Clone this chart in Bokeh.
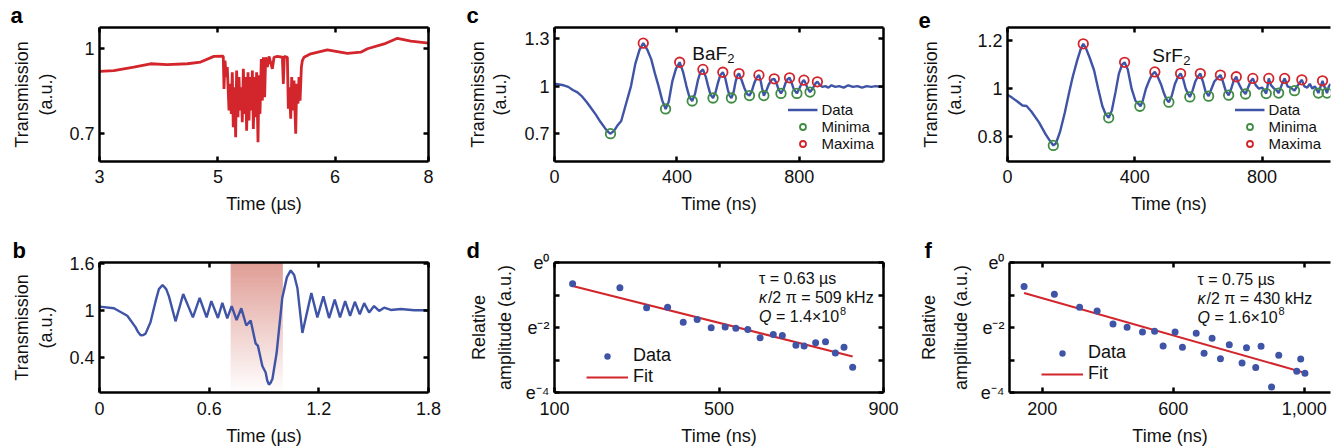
import numpy as np
from bokeh.plotting import figure
from bokeh.models import Range1d, FixedTicker, LinearAxis, Label, Legend, LegendItem
from bokeh.layouts import row, column
from bokeh.embed import file_html
from bokeh.resources import INLINE

# ---------------- data ----------------
# panel a (x in axis-position units; tick labels 3,5,6,8)
a_pos = [3.000,3.218,3.522,3.776,4.029,4.334,4.537,4.739,4.866,4.881,4.892,4.907,4.927,4.942,4.968,4.983,5.003,5.018,5.033,5.054,
         5.069,5.084,5.104,5.120,5.135,5.155,5.170,5.186,5.206,5.221,5.236,5.257,5.272,5.287,5.307,5.323,5.338,5.358,5.373,5.388,
         5.409,5.424,5.439,5.459,5.475,5.490,5.510,5.525,5.551,5.576,5.627,5.652,5.703,5.779,5.794,5.809,5.855,5.870,5.885,5.906,
         5.921,5.936,5.956,5.982,5.997,6.017,6.032,6.048,6.068,6.083,6.108,6.210,6.463,6.768,6.971,7.072,7.326,7.528,7.731,8.000]
a_trans = [0.918,0.921,0.933,0.945,0.942,0.945,0.951,0.971,0.972,0.971,0.856,0.956,0.898,0.933,0.780,0.874,0.768,0.915,0.721,0.862,
           0.686,0.921,0.756,0.898,0.780,0.862,0.739,0.927,0.768,0.898,0.709,0.915,0.745,0.898,0.780,0.921,0.715,0.898,0.756,0.915,
           0.668,0.904,0.768,0.962,0.815,0.968,0.827,0.968,0.933,0.971,0.927,0.968,0.971,0.968,0.874,0.971,0.968,0.786,0.862,0.751,
           0.898,0.780,0.886,0.698,0.874,0.804,0.898,0.815,0.933,0.956,0.968,0.980,0.994,0.982,0.986,0.998,1.015,1.035,1.025,1.018]
a_xticks = [3.0, 4.8, 6.58, 8.0]
a_xlabels = ["3", "5", "6", "8"]
a_yticks = [0.7, 1.0]
a_ylabels = ["0.7", "1"]

# panel b
b_time = [0.000,0.079,0.152,0.197,0.210,0.225,0.240,0.252,0.279,0.307,0.325,0.345,0.365,0.380,0.416,0.458,0.511,0.548,0.586,0.612,
          0.648,0.672,0.699,0.723,0.750,0.776,0.803,0.827,0.854,0.867,0.891,0.909,0.918,0.927,0.935,0.946,0.969,1.000,1.025,1.046,
          1.065,1.083,1.110,1.159,1.192,1.225,1.256,1.287,1.316,1.344,1.371,1.397,1.424,1.448,1.475,1.502,1.530,1.557,1.594,1.648,
          1.722,1.800]
b_trans = [1.046,1.025,0.930,0.785,0.725,0.681,0.685,0.702,0.847,1.116,1.270,1.323,1.270,1.178,0.859,1.207,0.909,1.157,0.909,1.116,
           0.901,1.095,0.897,1.054,0.876,1.025,0.806,0.868,0.578,0.545,0.288,0.206,0.100,0.052,0.070,0.123,0.454,1.157,1.420,1.509,
           1.450,1.281,0.710,1.219,0.909,1.178,0.901,1.137,0.909,1.116,0.930,1.108,0.950,1.091,0.971,1.054,0.992,1.033,1.004,1.017,
           1.000,1.000]
b_shade = [0.72, 1.0]
b_xticks = [0.0, 0.6, 1.2, 1.8]
b_xlabels = ["0", "0.6", "1.2", "1.8"]
b_yticks = [0.4, 1.0, 1.6]
b_ylabels = ["0.4", "1", "1.6"]

# panel c (BaF2)
c_time = [0,15,30,45,60,75,90,105,120,135,150,165,176,183,195,205,218,234,250,264,278,290,303,316,328,340,352,363,373,385,
          397,409,420,431,441,450,459,469,477,485,494,502,510,518,526,534,542,550,558,566,572,578,585,592,598,603,611,620,629,637,
          645,653,661,668,673,678,684,692,700,710,718,725,732,740,748,755,762,768,775,782,792,799,806,811,815,820,826,835,842,848,
          854,859,866,875,885,895,905,918,930,945,960,975,990,1005,1020,1035,1050,1065,1075]
c_trans = [1.015,1.01,1.005,0.995,0.975,0.96,0.935,0.9,0.86,0.82,0.775,0.735,0.71,0.70,0.72,0.75,0.78,0.89,1.0,1.14,
           1.23,1.27,1.23,1.17,1.08,1.0,0.91,0.856,0.9,1.03,1.11,1.15,1.09,1.0,0.93,0.906,0.95,1.04,1.09,1.105,
           1.06,1.0,0.945,0.925,0.96,1.02,1.07,1.087,1.05,0.98,0.94,0.925,0.96,1.03,1.07,1.079,1.04,0.99,0.95,0.94,
           0.97,1.02,1.055,1.069,1.04,0.99,0.94,0.97,1.01,1.04,1.046,1.02,0.98,0.954,0.98,1.02,1.045,1.052,1.02,0.98,
           0.954,0.98,1.01,1.03,1.0375,1.02,0.99,0.9625,0.98,1.0,1.02,1.027,1.01,0.995,1.0,0.99,1.005,0.995,1.0,0.99,
           1.005,0.995,1.0,0.99,1.0,0.995,1.0,0.995,1.0]
c_max_t = [290,409,485,550,603,668,718,768,815,859]
c_max_y = [1.27,1.15,1.105,1.087,1.079,1.069,1.046,1.052,1.0375,1.027]
c_min_t = [183,363,450,518,578,637,684,740,792,835]
c_min_y = [0.70,0.856,0.906,0.925,0.925,0.94,0.94,0.954,0.954,0.9625]
c_xticks = [0, 400, 800]
c_xlabels = ["0", "400", "800"]
c_yticks = [0.7, 1.0, 1.3]
c_ylabels = ["0.7", "1", "1.3"]

# panel d (BaF2 decay, natural log of relative amplitude)
d_time = [144,259,324,375,413,447,481,515,541,570,600,632,654,687,707,735,759,783,804,825]
d_lnamp = [-0.655,-0.776,-1.39,-1.38,-1.84,-1.75,-2.005,-1.985,-2.025,-2.065,-2.317,-2.217,-2.247,-2.549,-2.569,-2.468,-2.438,-2.781,-2.61,-3.224]
d_fit_t = [144, 825]
d_fit_ln = [-0.725, -2.89]
d_xticks = [100, 500, 900]
d_xlabels = ["100", "500", "900"]

# panel e (SrF2)
e_time = [0,15,30,47,60,75,99,120,135,144,152,165,180,193,205,219,230,238,246,258,272,285,298,308,318,328,340,350,360,368,
          378,390,402,413,418,425,435,447,455,463,472,482,492,500,507,516,526,536,544,552,560,567,573,581,590,598,606,614,622,632,
          641,650,660,669,677,686,695,703,711,719,727,737,748,756,764,771,780,790,800,808,813,817,821,828,838,845,852,860,866,871,
          880,890,896,902,910,918,925,933,942,950,958,966,972,977,984,990,997,1004,1010,1015]
e_trans = [0.975,0.962,0.948,0.93,0.928,0.905,0.86,0.81,0.78,0.764,0.772,0.82,0.9,0.98,1.05,1.118,1.165,1.187,1.17,1.13,
           1.077,1.0,0.928,0.895,0.879,0.91,0.99,1.063,1.1,1.11,1.08,1.0,0.95,0.935,0.927,0.95,1.0,1.04,1.06,1.07,
           1.05,1.02,0.98,0.955,0.944,0.97,1.02,1.05,1.063,1.04,1.0,0.98,0.966,0.99,1.03,1.05,1.063,1.03,0.99,0.969,
           1.0,1.03,1.045,1.057,1.03,0.99,0.973,1.0,1.035,1.05,1.02,0.995,0.978,1.005,1.03,1.043,1.015,1.0,1.005,0.99,
           0.98,1.01,1.043,1.015,1.0,0.995,0.982,1.01,1.03,1.043,1.01,1.005,0.998,0.992,1.01,1.025,1.037,1.01,1.005,1.02,
           1.0,1.01,0.995,0.982,1.01,1.033,1.005,0.982,1.01,1.02]
e_max_t = [238,368,463,544,606,669,719,771,821,871,925,990]
e_max_y = [1.187,1.11,1.07,1.063,1.063,1.057,1.05,1.043,1.043,1.043,1.037,1.033]
e_min_t = [144,318,416,507,573,632,695,748,813,852,902,977,1004]
e_min_y = [0.764,0.879,0.927,0.944,0.966,0.969,0.973,0.978,0.98,0.982,0.992,0.982,0.982]
e_xticks = [0, 400, 800]
e_xlabels = ["0", "400", "800"]
e_yticks = [0.8, 1.0, 1.2]
e_ylabels = ["0.8", "1", "1.2"]

# panel f (SrF2 decay)
f_time = [144.5,237,314,367.5,416,459,506,543,569,605.5,628,670,694,718.5,744,771,810,823.5,851.7,868,900,922,977,989,1002]
f_lnamp = [-0.735,-0.977,-1.38,-1.49,-1.894,-1.995,-2.136,-2.116,-2.569,-2.136,-2.61,-2.176,-2.79,-2.327,-2.962,-2.529,-3.093,-2.62,-3.234,-2.58,-3.829,-2.851,-3.345,-2.972,-3.406]
f_fit_t = [144.5, 1002]
f_fit_ln = [-0.937, -3.395]
f_xticks = [200, 600, 1000]
f_xlabels = ["200", "600", "1,000"]

ln_ticks = [-4, -3, -2, -1, 0]
ln_labels = ["e\u207b\u2074", "", "e\u207b\u00b2", "", "e\u2070"]

# ---------------- style ----------------
FONT = "Liberation Sans"
BLUE = "#3f54a6"
RED = "#d2262c"
GREEN = "#3f8c42"
TXT = "#111111"


def base_fig(w, h, bl, br, bt, bb, xr, yr, letter, letter_off):
    p = figure(width=w, height=h, x_range=Range1d(*xr), y_range=Range1d(*yr),
               output_backend="svg", toolbar_location=None,
               x_axis_location=None, y_axis_location=None,
               min_border_left=bl, min_border_right=br, min_border_top=bt, min_border_bottom=bb,
               outline_line_color=None, background_fill_color="white", border_fill_color="white")
    p.grid.visible = False
    p.title.text = letter
    p.title.align = "left"
    p.title.offset = letter_off
    p.title.standoff = 0
    p.title.vertical_align = "bottom"
    p.title.text_font = FONT
    p.title.text_font_size = "22px"
    p.title.text_font_style = "bold"
    p.title.text_color = "black"
    p.title.text_line_height = 0.6
    return p


def axis_common():
    return dict(axis_line_width=2.5, axis_line_color="black",
                major_tick_line_width=2.5, major_tick_line_color="black",
                major_tick_in=5, major_tick_out=0, minor_tick_line_color=None)


LAB = dict(major_label_text_font=FONT, major_label_text_font_size="18px",
           major_label_text_color=TXT, axis_label_text_font=FONT,
           axis_label_text_font_size="18px", axis_label_text_font_style="normal",
           axis_label_text_color=TXT)


def add_axes(p, xt, xl, yt, yl, xlabel, ylab_in, ylab_out, right=True,
             xs=(8, 8), ys=(5, 8, 4)):
    b = LinearAxis(ticker=FixedTicker(ticks=xt), major_label_overrides=dict(zip(xt, xl)),
                   axis_label=xlabel, major_label_standoff=xs[0], axis_label_standoff=xs[1],
                   **axis_common(), **LAB)
    p.add_layout(b, "below")
    l = LinearAxis(ticker=FixedTicker(ticks=yt), major_label_overrides=dict(zip(yt, yl)),
                   axis_label=ylab_in, major_label_standoff=ys[0], axis_label_standoff=ys[1],
                   **axis_common(), **LAB)
    p.add_layout(l, "left")
    lo = LinearAxis(ticker=FixedTicker(ticks=[]), axis_label=ylab_out, axis_label_standoff=ys[2],
                    axis_line_color=None, major_tick_line_color=None, minor_tick_line_color=None,
                    major_label_standoff=0, **LAB)
    p.add_layout(lo, "left")
    hid = dict(major_label_standoff=0, major_label_text_font_size="1px")
    t = LinearAxis(ticker=FixedTicker(ticks=xt), major_label_overrides={v: "" for v in xt},
                   **hid, **axis_common())
    p.add_layout(t, "above")
    if right:
        r = LinearAxis(ticker=FixedTicker(ticks=yt), major_label_overrides={v: "" for v in yt},
                       **hid, **axis_common())
        p.add_layout(r, "right")


# geometry: columns 455 / 460 / 425, rows 222 / 226
W1, W2, W3 = 455, 460, 425
H1, H2 = 222, 226

# ---- a ----
pa = base_fig(W1, H1, 99, 27, 26, 61, (3.0, 8.0), (0.6, 1.073), "a", -89)
pa.line(a_pos, a_trans, line_color=RED, line_width=2.8)
add_axes(pa, a_xticks, a_xlabels, a_yticks, a_ylabels, "Time (\u00b5s)", "(a.u.)", "Transmission", ys=(5, 10, 2))

# ---- b ----
yb = (-0.05, 1.61)
pb = base_fig(W1, H2, 99, 27, 40, 54, (0.0, 1.8), yb, "b", -87)
ys_ = np.linspace(yb[0], yb[1], 61)
fr = (ys_[:-1] + ys_[1:] - 2 * yb[0]) / 2 / (yb[1] - yb[0])
cols = ["#%02x%02x%02x" % (int(255 - (255 - 224) * f), int(255 - (255 - 158) * f), int(255 - (255 - 150) * f)) for f in fr]
pb.quad(left=b_shade[0], right=b_shade[1], bottom=ys_[:-1], top=ys_[1:], fill_color=cols, line_color=cols, line_width=1)
pb.line(b_time, b_trans, line_color=BLUE, line_width=2.4)
add_axes(pb, b_xticks, b_xlabels, b_yticks, b_ylabels, "Time (\u00b5s)", "(a.u.)", "Transmission", xs=(9, 8), ys=(5, 10, 2))

# ---- c ----
pc = base_fig(W2, H1, 99, 32, 26, 61, (0, 1075), (0.525, 1.369), "c", -88)
rc = pc.line(c_time, c_trans, line_color=BLUE, line_width=2.4)
rcmin = pc.scatter(c_min_t, c_min_y, marker="circle", size=9.5, fill_color=None, line_color=GREEN, line_width=1.8)
rcmax = pc.scatter(c_max_t, c_max_y, marker="circle", size=9.5, fill_color=None, line_color=RED, line_width=1.8)
add_axes(pc, c_xticks, c_xlabels, c_yticks, c_ylabels, "Time (ns)", "(a.u.)", "Transmission", ys=(5, 11, 0))
pc.add_layout(Label(x=450, y=1.206, text="BaF", text_font=FONT, text_font_size="19px", text_color=TXT, text_baseline="alphabetic"))
pc.add_layout(Label(x=450, y=1.206, x_offset=35, y_offset=-5, text="2", text_font=FONT, text_font_size="13px", text_color=TXT, text_baseline="alphabetic"))

# ---- d ----
pd_ = base_fig(W2, H2, 99, 32, 40, 54, (100, 900), (-4, 0), "d", -88)
rdfit = pd_.line(d_fit_t, d_fit_ln, line_color=RED, line_width=2)
rd = pd_.scatter(d_time, d_lnamp, marker="circle", size=7, fill_color=BLUE, line_color=None)
add_axes(pd_, d_xticks, d_xlabels, ln_ticks, ln_labels, "Time (ns)", "amplitude (a.u.)", "Relative", xs=(9, 8), ys=(5, 8, 3))

# ---- e ----
pe = base_fig(W3, H1, 92, 10, 26, 61, (0, 1015), (0.697, 1.255), "e", -89)
re_ = pe.line(e_time, e_trans, line_color=BLUE, line_width=2.4)
remin = pe.scatter(e_min_t, e_min_y, marker="circle", size=9.5, fill_color=None, line_color=GREEN, line_width=1.8)
remax = pe.scatter(e_max_t, e_max_y, marker="circle", size=9.5, fill_color=None, line_color=RED, line_width=1.8)
add_axes(pe, e_xticks, e_xlabels, e_yticks, e_ylabels, "Time (ns)", "(a.u.)", "Transmission", right=False, ys=(5, 9, 2))
pe.add_layout(Label(x=455, y=1.139, text="SrF", text_font=FONT, text_font_size="19px", text_color=TXT, text_baseline="alphabetic"))
pe.add_layout(Label(x=455, y=1.139, x_offset=31, y_offset=-5, text="2", text_font=FONT, text_font_size="13px", text_color=TXT, text_baseline="alphabetic"))

# ---- f ----
pf = base_fig(W3, H2, 92, 10, 40, 54, (100, 1080), (-4, 0), "f", -85)
rffit = pf.line(f_fit_t, f_fit_ln, line_color=RED, line_width=2)
rf = pf.scatter(f_time, f_lnamp, marker="circle", size=7, fill_color=BLUE, line_color=None)
add_axes(pf, f_xticks, f_xlabels, ln_ticks, ln_labels, "Time (ns)", "amplitude (a.u.)", "Relative", right=False, xs=(9, 8), ys=(5, 7, 9))


def trans_legend(p, r_line, r_min, r_max):
    leg = Legend(items=[LegendItem(label="Data", renderers=[r_line]),
                        LegendItem(label="Minima", renderers=[r_min]),
                        LegendItem(label="Maxima", renderers=[r_max])],
                 location="bottom_right", margin=9, padding=0, spacing=0,
                 glyph_width=30, glyph_height=15, label_height=15, label_standoff=4,
                 label_text_font=FONT, label_text_font_size="15px", label_text_color=TXT,
                 label_text_line_height=1.0,
                 border_line_color=None, background_fill_alpha=0)
    p.add_layout(leg)


def decay_legend(p, r_dot, r_fit, loc):
    leg = Legend(items=[LegendItem(label="Data", renderers=[r_dot]),
                        LegendItem(label="Fit", renderers=[r_fit])],
                 location=loc, margin=0, padding=0, spacing=0,
                 glyph_width=42, glyph_height=16, label_height=16, label_standoff=5,
                 label_text_font=FONT, label_text_font_size="18px", label_text_color=TXT,
                 label_text_line_height=1.0,
                 border_line_color=None, background_fill_alpha=0)
    p.add_layout(leg)


trans_legend(pc, rc, rcmin, rcmax)
trans_legend(pe, re_, remin, remax)
decay_legend(pd_, rd, rdfit, (32, 5))
decay_legend(pf, rf, rffit, (32, 8))


def annot(p, x, yv, tau, kap, q):
    kw = dict(text_font=FONT, text_font_size="16px", text_color=TXT, text_baseline="middle")
    p.add_layout(Label(x=x, y=yv[0], text="\u03c4 = " + tau, **kw))
    p.add_layout(Label(x=x, y=yv[1], text="\u03ba", text_font_style="italic", **kw))
    p.add_layout(Label(x=x, y=yv[1], x_offset=9, text="/2 \u03c0 = " + kap, **kw))
    p.add_layout(Label(x=x, y=yv[2], text="Q", text_font_style="italic", **kw))
    p.add_layout(Label(x=x, y=yv[2], x_offset=17, text="= " + q, **kw))
    kw2 = dict(kw)
    kw2["text_font_size"] = "11px"
    p.add_layout(Label(x=x, y=yv[2], x_offset=81, y_offset=6, text="8", **kw2))


annot(pd_, 597, (-0.49, -1.07, -1.67), "0.63 \u00b5s", "509 kHz", "1.4\u00d710")
annot(pf, 674, (-0.53, -1.12, -1.69), "0.75 \u00b5s", "430 kHz", "1.6\u00d710")

layout = column(row(pa, pc, pe), row(pb, pd_, pf))
open("out.html", "w").write(file_html(layout, INLINE))
